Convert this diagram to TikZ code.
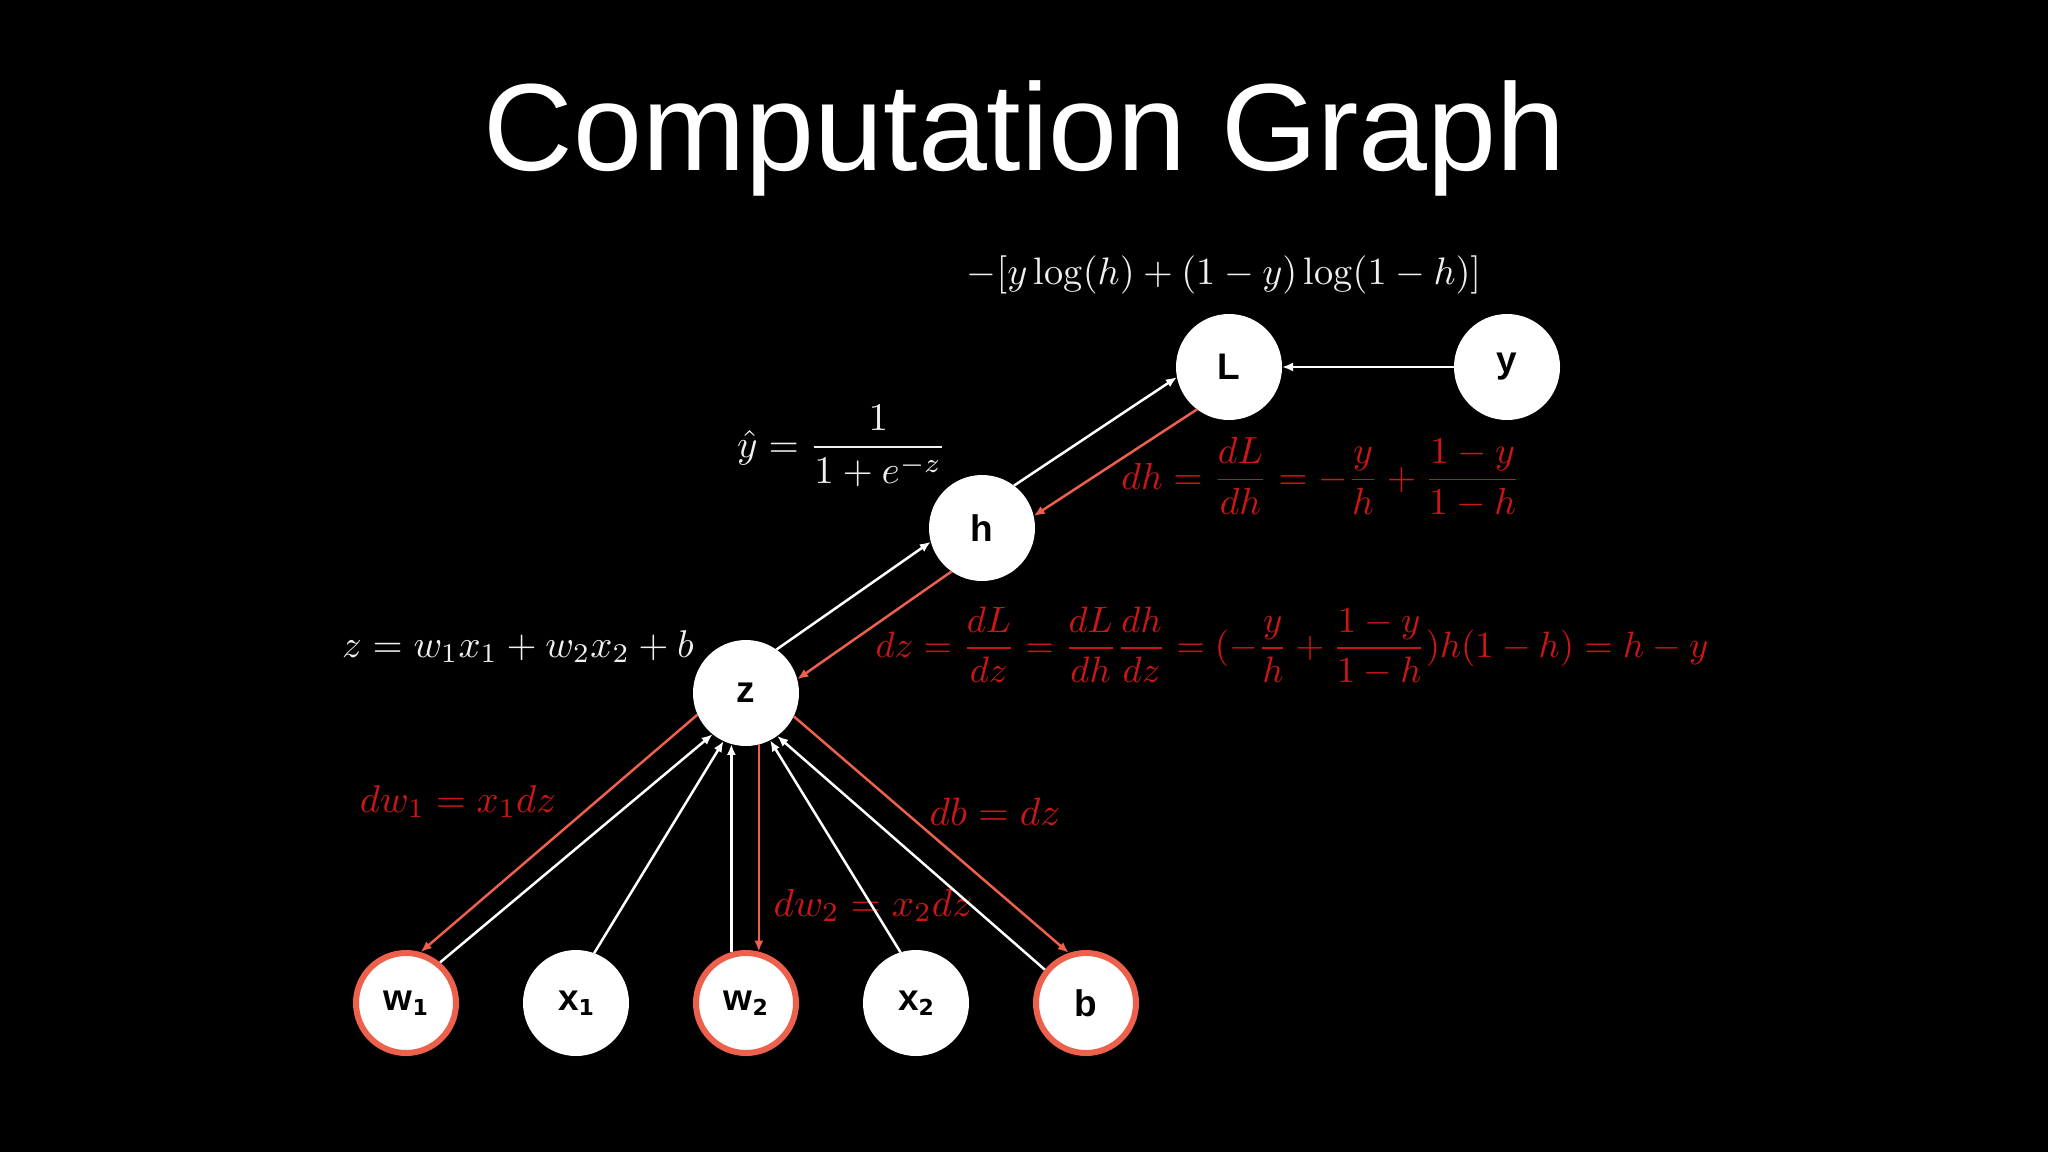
\documentclass[tikz,border=0pt]{standalone}
\usepackage{fontspec}
\newfontfamily\titlefont{Liberation Sans}
\newfontfamily\nodefont{Liberation Sans}
\newfontfamily\subfont{DejaVu Sans}
\usetikzlibrary{arrows.meta}
\definecolor{salmon}{RGB}{236,96,76}
\definecolor{dred}{RGB}{205,22,22}
\definecolor{chalk}{RGB}{240,240,240}
\newcommand{\sub}[1]{\raisebox{-5pt}{\subfont\bfseries\fontsize{22}{22}\selectfont #1}}
\begin{document}
\begin{tikzpicture}[x=1pt,y=-1pt,
  every node/.style={inner sep=0pt, outer sep=0pt},
  nlabel/.style={font=\nodefont\bfseries\fontsize{37}{37}\selectfont, text=black},
  gnode/.style={circle, fill=white, minimum size=106pt, nlabel},
  pnode/.style={circle, fill=white, draw=salmon, line width=6pt, minimum size=100pt, outer sep=3pt, nlabel},
  fwd/.style={draw=white, line width=2.5pt, -{Latex[length=11pt,width=9pt]}},
  bwd/.style={draw=salmon, line width=2.5pt, -{Latex[length=11pt,width=9pt]}},
  wmath/.style={text=chalk, anchor=base},
  rmath/.style={text=dred, anchor=base},
]
\fill[black] (0,0) rectangle (2048,1152);

\node[font=\titlefont\fontsize{124}{124}\selectfont, text=white, anchor=base] (title) at (1025,170) {Computation Graph};

% graph nodes
\node[gnode] (L) at (1229,367) {L};
\node[gnode] (y) at (1507,367) {y};
\node[gnode] (h) at (982,528) {h};
\node[gnode] (z) at (746,693) {z};
\node[pnode] (w1) at (406,1003) {w\sub{1}};
\node[gnode] (x1) at (576,1003) {x\sub{1}};
\node[pnode] (w2) at (746,1003) {w\sub{2}};
\node[gnode] (x2) at (916,1003) {x\sub{2}};
\node[pnode] (b) at (1086,1003) {b};

% formulas
\node[wmath] (loss) at (1224,284) {\scalebox{3.83}{$-[y\log(h)+(1-y)\log(1-h)]$}};
\node[wmath] (yhat) at (842,457) {\scalebox{3.9}{$\displaystyle \hat{y}=\frac{1}{1+e^{-z}}$}};
\node[wmath] (zeq) at (518,657) {\scalebox{3.87}{$z=w_1x_1+w_2x_2+b$}};
\node[rmath] (dh) at (1321,489) {\scalebox{3.78}{$\displaystyle dh=\frac{dL}{dh}=-\frac{y}{h}+\frac{1-y}{1-h}$}};
\node[rmath] (dz) at (1292,657) {\scalebox{3.67}{$\displaystyle dz=\frac{dL}{dz}=\frac{dL}{dh}\frac{dh}{dz}=(-\frac{y}{h}+\frac{1-y}{1-h})h(1-h)=h-y$}};
\node[rmath] (dw1) at (458,812) {\scalebox{3.87}{$dw_1=x_1dz$}};
\node[rmath] (db) at (995,825) {\scalebox{3.95}{$db=dz$}};
\node[rmath] (dw2) at (873,916) {\scalebox{3.92}{$dw_2=x_2dz$}};

% connectors
\draw[fwd] (y) -- (L);
\draw[fwd] (h.53) -- (L.191);
\draw[bwd] (L.233) -- (h.13);
\draw[fwd] (z.55) -- (h.195);
\draw[bwd] (h.235) -- (z.15);
\draw[fwd] (w1.50) -- (z.231);
\draw[bwd] (z.204) -- (w1.74);
\draw[fwd] (x1.70) -- (z.245);
\draw[fwd] (w2.106) -- (z.254);
\draw[bwd] (z.284) -- (w2.76);
\draw[fwd] (x2.107) -- (z.297);
\draw[fwd] (b.141) -- (z.306);
\draw[bwd] (z.334) -- (b.109);
\end{tikzpicture}
\end{document}
